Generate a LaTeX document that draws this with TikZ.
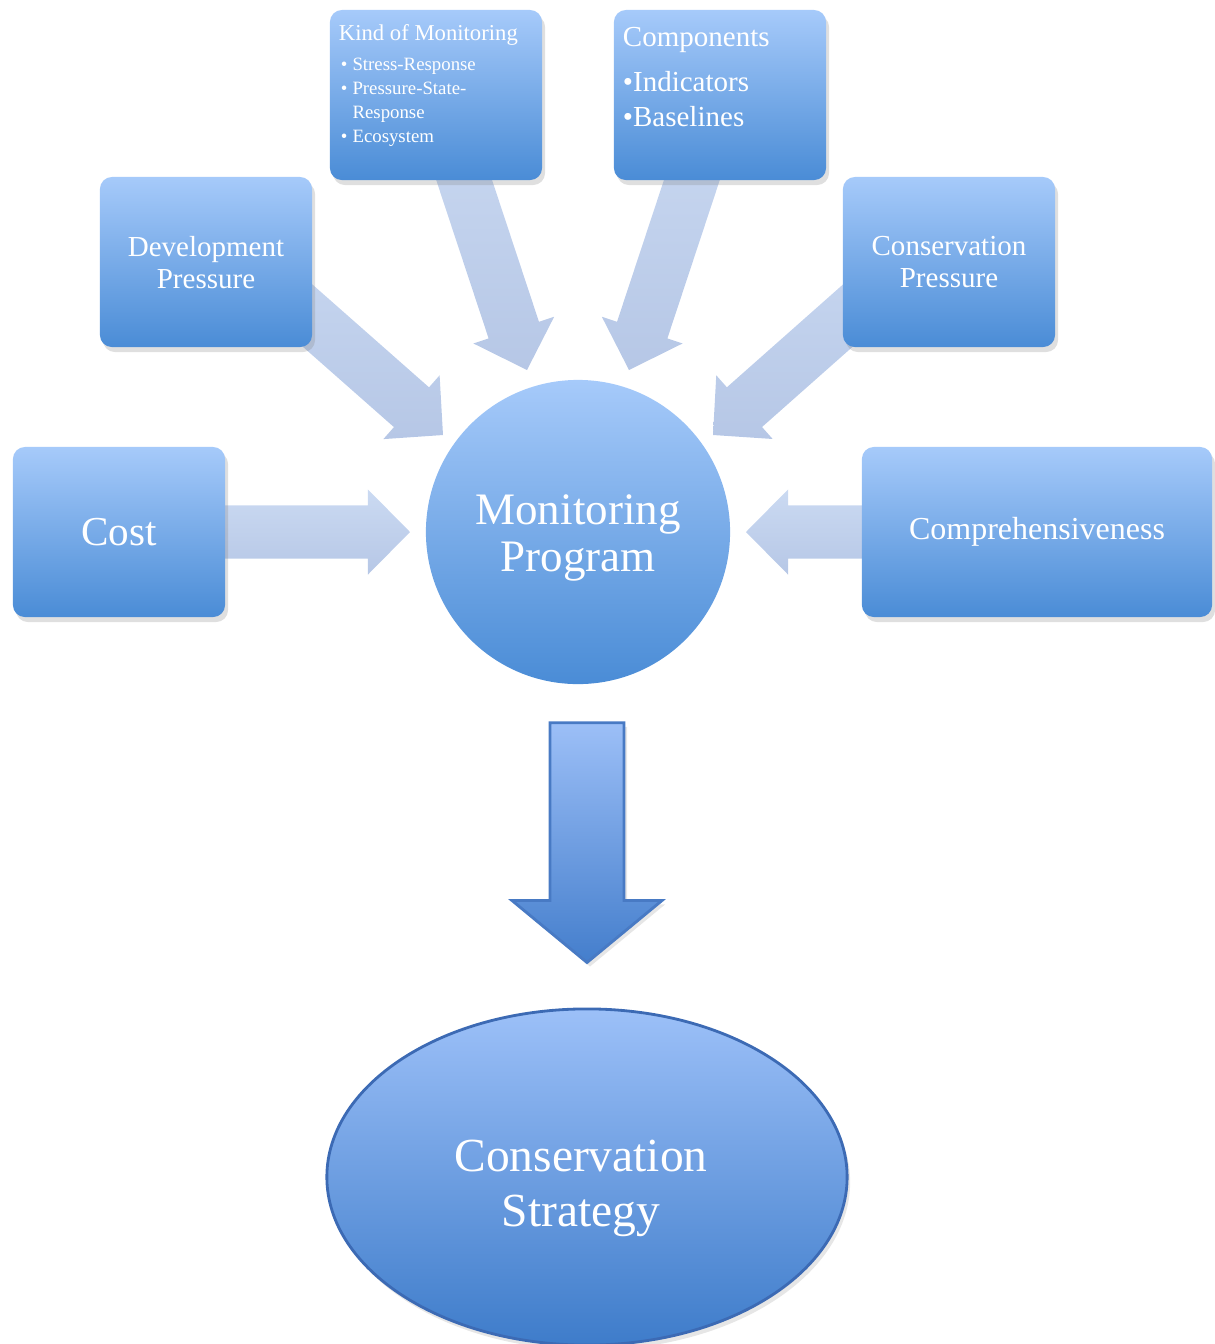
\documentclass[tikz,border=0pt]{standalone}
\usepackage{fontspec}
\setmainfont{Liberation Serif}
\usetikzlibrary{positioning,calc,shapes.geometric,shadows}
\definecolor{boxtop}{RGB}{166,202,250}
\definecolor{boxbot}{RGB}{74,140,214}
\definecolor{arrtop}{RGB}{203,218,242}
\definecolor{arrbot}{RGB}{182,199,230}
\definecolor{downtop}{RGB}{156,191,247}
\definecolor{downbot}{RGB}{68,126,204}
\definecolor{downline}{RGB}{72,122,196}
\definecolor{elltop}{RGB}{156,192,248}
\definecolor{ellbot}{RGB}{62,124,202}
\definecolor{ellline}{RGB}{60,106,180}
\tikzset{
  box/.style={rectangle, rounded corners=0.12cm, minimum width=2.12cm, minimum height=1.7cm,
    top color=boxtop, bottom color=boxbot, text=white, align=center,
    drop shadow={shadow xshift=0.03cm, shadow yshift=-0.05cm, opacity=0.25},
    font=\fontsize{8.25}{9.1}\selectfont},
  boxtext/.style={inner sep=0pt, text=white, align=left},
  bigtext/.style={inner sep=0pt, text=white, align=center},
  inarrow/.style={top color=arrtop, bottom color=arrbot},
  outarrow/.style={top color=downtop, bottom color=downbot, draw=downline, line width=0.8pt,
    drop shadow={shadow xshift=0.03cm, shadow yshift=-0.04cm, opacity=0.2}}
}
% block arrow: style, from, tip, shaft half width, head half width, head length
\newcommand{\blockarrow}[6]{%
  \coordinate (ba-h) at ($(#3)!#6!(#2)$);
  \path[#1] ($(#2)!#4!90:(#3)$) -- ($(ba-h)!#4!90:(#3)$) -- ($(ba-h)!#5!90:(#3)$)
    -- (#3) -- ($(ba-h)!#5!-90:(#3)$) -- ($(ba-h)!#4!-90:(#3)$) -- ($(#2)!#4!-90:(#3)$) -- cycle;}
\begin{document}
\begin{tikzpicture}[x=0.01cm, y=0.01cm]
	\useasboundingbox (0,0) rectangle (1215,-1344);
	% centre and the two ends of the lower arrow
	\node[circle, minimum size=3.04cm, inner sep=0pt, top color=boxtop, bottom color=boxbot] (prog) at (578,-532) {};
	\node[bigtext, font=\fontsize{12.8}{13.4}\selectfont] (prog-text) at ($(prog.center)+(0,-6)$) {Monitoring\\Program};
	\node[ellipse, minimum width=5.2cm, minimum height=3.36cm, inner sep=0pt, top color=elltop,
	  bottom color=ellbot, draw=ellline, line width=0.8pt,
	  drop shadow={shadow xshift=0.03cm, shadow yshift=-0.05cm, opacity=0.2}] (strat) at (587,-1177) {};
	\node[bigtext, font=\fontsize{13.5}{15.6}\selectfont] (strat-text) at ($(strat.center)+(-6,-11)$) {Conservation\\Strategy};
	\coordinate (prog-out) at ($(prog.south)+(9,-38)$);
	\coordinate (strat-in) at ($(strat.north)+(0,45)$);
	% tips of the incoming arrows
	\coordinate (t-cost) at ($(prog.center)+(-168,0)$);
	\coordinate (t-compr) at ($(prog.center)+(168,0)$);
	\coordinate (t-dev) at ($(prog.center)+(-135,97)$);
	\coordinate (t-cons) at ($(prog.center)+(135,97)$);
	\coordinate (t-kind) at ($(prog.center)+(-51,162)$);
	\coordinate (t-comp) at ($(prog.center)+(51,162)$);
	% the boxes have to be known before the arrows, so place them first
	\path (436,-95) coordinate (p-kind) (720,-95) coordinate (p-comp)
	  (206,-262) coordinate (p-dev) (949,-262) coordinate (p-cons)
	  (119,-532) coordinate (p-cost) (1037,-532) coordinate (p-compr);
	\blockarrow{inarrow}{p-cost}{t-cost}{0.265cm}{0.425cm}{0.42cm}
	\blockarrow{inarrow}{p-compr}{t-compr}{0.265cm}{0.425cm}{0.42cm}
	\blockarrow{inarrow}{$(p-dev)+(0,36)$}{t-dev}{0.265cm}{0.425cm}{0.42cm}
	\blockarrow{inarrow}{$(p-cons)+(0,36)$}{t-cons}{0.265cm}{0.425cm}{0.42cm}
	\blockarrow{inarrow}{p-kind}{t-kind}{0.265cm}{0.425cm}{0.42cm}
	\blockarrow{inarrow}{p-comp}{t-comp}{0.265cm}{0.425cm}{0.42cm}
	\blockarrow{outarrow}{prog-out}{strat-in}{0.37cm}{0.75cm}{0.62cm}
	% boxes
	\node[box] (kind) at (p-kind) {};
	\node[box] (comp) at (p-comp) {};
	\node[box, text depth=-4pt] (dev) at (p-dev) {Development\\Pressure};
	\node[box, text depth=-4pt] (cons) at (p-cons) {Conservation\\Pressure};
	\node[box, font=\fontsize{11.7}{13}\selectfont] (cost) at (p-cost) {Cost};
	\node[box, minimum width=3.5cm, font=\fontsize{9.1}{10}\selectfont] (compr) at (p-compr) {Comprehensiveness};
	\node[boxtext, anchor=north west, font=\fontsize{6.45}{7.5}\selectfont] (kind-title)
	  at ($(kind.north west)+(9,-15)$) {Kind of Monitoring};
	\node[boxtext, below right=0.07cm and 0.02cm of kind-title.south west, font=\fontsize{5.35}{6.75}\selectfont] (kind-list)
	  {\begin{tabular}{@{}l@{\hspace{0.05cm}}l@{}}
	  \textbullet & Stress-Response\\ \textbullet & Pressure-State-\\ & Response\\ \textbullet & Ecosystem
	  \end{tabular}};
	\node[boxtext, anchor=north west, font=\fontsize{8.25}{10}\selectfont] (comp-text)
	  at ($(comp.north west)+(9,-17)$) {Components\\[0.1cm]\textbullet Indicators\\\textbullet Baselines};
\end{tikzpicture}
\end{document}
